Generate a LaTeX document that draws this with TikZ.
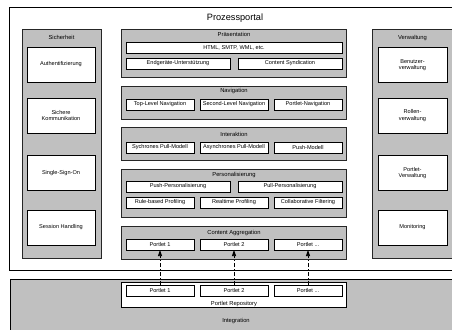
\documentclass[tikz,border=0pt]{standalone}
\usepackage{fontspec}
\setmainfont{Liberation Sans}
\usetikzlibrary{arrows.meta}
\definecolor{boxgray}{RGB}{192,192,192}
\begin{document}
\begin{tikzpicture}[x=1pt,y=-1pt,
  every node/.style={inner sep=0pt, outer sep=0pt},
  frame/.style={draw=black, line width=0.8pt},
  grp/.style={draw=black!85, line width=0.7pt, fill=boxgray},
  wbox/.style={draw=black, line width=0.9pt, fill=white, align=center,
    font=\fontsize{5.6}{6.6}\selectfont},
  lbl/.style={font=\fontsize{5.8}{7}\selectfont},
  arr/.style={-{Triangle[length=6pt,width=4pt]}, line width=0.7pt,
    dash pattern=on 4pt off 2pt on 1pt off 2pt}
]
\useasboundingbox (0,0) rectangle (452,329);
% outer frames
\node[frame, fill=white, minimum width=451pt, minimum height=263.5pt] (portal) at (234.5,138.75) {};
\node[frame, fill=boxgray, minimum width=450pt, minimum height=57pt] (integ) at (235,307.5) {};
\node[font=\fontsize{9.2}{11}\selectfont] (title) at (235,18.5) {Prozessportal};
\node[lbl] (integlbl) at (236,321) {Integration};

% Sicherheit
\node[grp, minimum width=79pt, minimum height=229pt] (sich) at (61.5,143.5) {};
\node[lbl] (sichlbl) at (61.5,37) {Sicherheit};
\node[wbox, minimum width=68pt, minimum height=35pt] (auth) at (61,64.5) {Authentifizierung};
\node[wbox, minimum width=68pt, minimum height=35pt] (skom) at (61,115.5) {Sichere\\Kommunikation};
\node[wbox, minimum width=68pt, minimum height=35pt] (sso) at (61,173) {Single-Sign-On};
\node[wbox, minimum width=68pt, minimum height=35pt] (sess) at (61,227.5) {Session Handling};

% Verwaltung
\node[grp, minimum width=81pt, minimum height=229pt] (verw) at (412.5,143.5) {};
\node[lbl] (verwlbl) at (412.5,38) {Verwaltung};
\node[wbox, minimum width=69pt, minimum height=35pt] (benu) at (412.5,65) {Benutzer-\\verwaltung};
\node[wbox, minimum width=69pt, minimum height=35pt] (roll) at (412.5,115.5) {Rollen-\\verwaltung};
\node[wbox, minimum width=69pt, minimum height=35pt] (pver) at (412.5,173) {Portlet-\\Verwaltung};
\node[wbox, minimum width=69pt, minimum height=35pt] (moni) at (412.5,227.5) {Monitoring};

% Praesentation
\node[grp, minimum width=225pt, minimum height=48pt] (praes) at (233.5,53) {};
\node[lbl] (praeslbl) at (234,34) {Präsentation};
\node[wbox, minimum width=216pt, minimum height=11pt] (html) at (234,47.5) {HTML, SMTP, WML, etc.};
\node[wbox, minimum width=104pt, minimum height=11pt] (endg) at (178,63.5) {Endgeräte-Unterstützung};
\node[wbox, minimum width=104pt, minimum height=11pt] (csyn) at (290,63.5) {Content Syndication};

% Navigation
\node[grp, minimum width=225pt, minimum height=33pt] (navi) at (233.5,102.5) {};
\node[lbl] (navilbl) at (234,91) {Navigation};
\node[wbox, minimum width=68pt, minimum height=11pt] (topn) at (160,104.5) {Top-Level Navigation};
\node[wbox, minimum width=68pt, minimum height=11pt] (secn) at (234,104.5) {Second-Level Navigation};
\node[wbox, minimum width=68pt, minimum height=11pt] (porn) at (308,104.5) {Portlet-Navigation};

% Interaktion
\node[grp, minimum width=225pt, minimum height=33pt] (inter) at (233.5,143.5) {};
\node[lbl] (interlbl) at (234,134.5) {Interaktion};
\node[wbox, minimum width=68pt, minimum height=11pt] (sync) at (160,147.5) {Sychrones Pull-Modell};
\node[wbox, minimum width=68pt, minimum height=11pt] (async) at (234,147.5) {Asynchrones Pull-Modell};
\node[wbox, minimum width=68pt, minimum height=11pt] (push) at (308,147.5) {Push-Modell};

% Personalisierung
\node[grp, minimum width=225pt, minimum height=48pt] (pers) at (233.5,193) {};
\node[lbl] (perslbl) at (234,175) {Personalisierung};
\node[wbox, minimum width=104pt, minimum height=11pt] (pushp) at (178,186.5) {Push-Personalisierung};
\node[wbox, minimum width=104pt, minimum height=11pt] (pullp) at (290,186.5) {Pull-Personalisierung};
\node[wbox, minimum width=68pt, minimum height=11pt] (rule) at (160,202.5) {Rule-based Profiling};
\node[wbox, minimum width=68pt, minimum height=11pt] (real) at (234,202.5) {Realtime Profiling};
\node[wbox, minimum width=68pt, minimum height=11pt] (coll) at (308,202.5) {Collaborative Filtering};

% Content Aggregation
\node[grp, minimum width=225pt, minimum height=33pt] (cagg) at (233.5,242.5) {};
\node[lbl] (cagglbl) at (234,232.5) {Content Aggregation};
\node[wbox, minimum width=68pt, minimum height=11pt] (ca1) at (160,244.5) {Portlet 1};
\node[wbox, minimum width=68pt, minimum height=11pt] (ca2) at (234,244.5) {Portlet 2};
\node[wbox, minimum width=68pt, minimum height=11pt] (ca3) at (308,244.5) {Portlet ...};

% Portlet Repository
\node[draw=black, line width=0.8pt, fill=white, minimum width=225pt, minimum height=25pt] (repo) at (233.5,294.5) {};
\node[lbl] (repolbl) at (234,303.5) {Portlet Repository};
\node[wbox, minimum width=68pt, minimum height=11pt] (r1) at (160,290.5) {Portlet 1};
\node[wbox, minimum width=68pt, minimum height=11pt] (r2) at (234,290.5) {Portlet 2};
\node[wbox, minimum width=68pt, minimum height=11pt] (r3) at (308,290.5) {Portlet ...};

% arrows
\draw[arr] (r1.north) -- (ca1.south);
\draw[arr] (r2.north) -- (ca2.south);
\draw[arr] (r3.north) -- (ca3.south);
\end{tikzpicture}
\end{document}
